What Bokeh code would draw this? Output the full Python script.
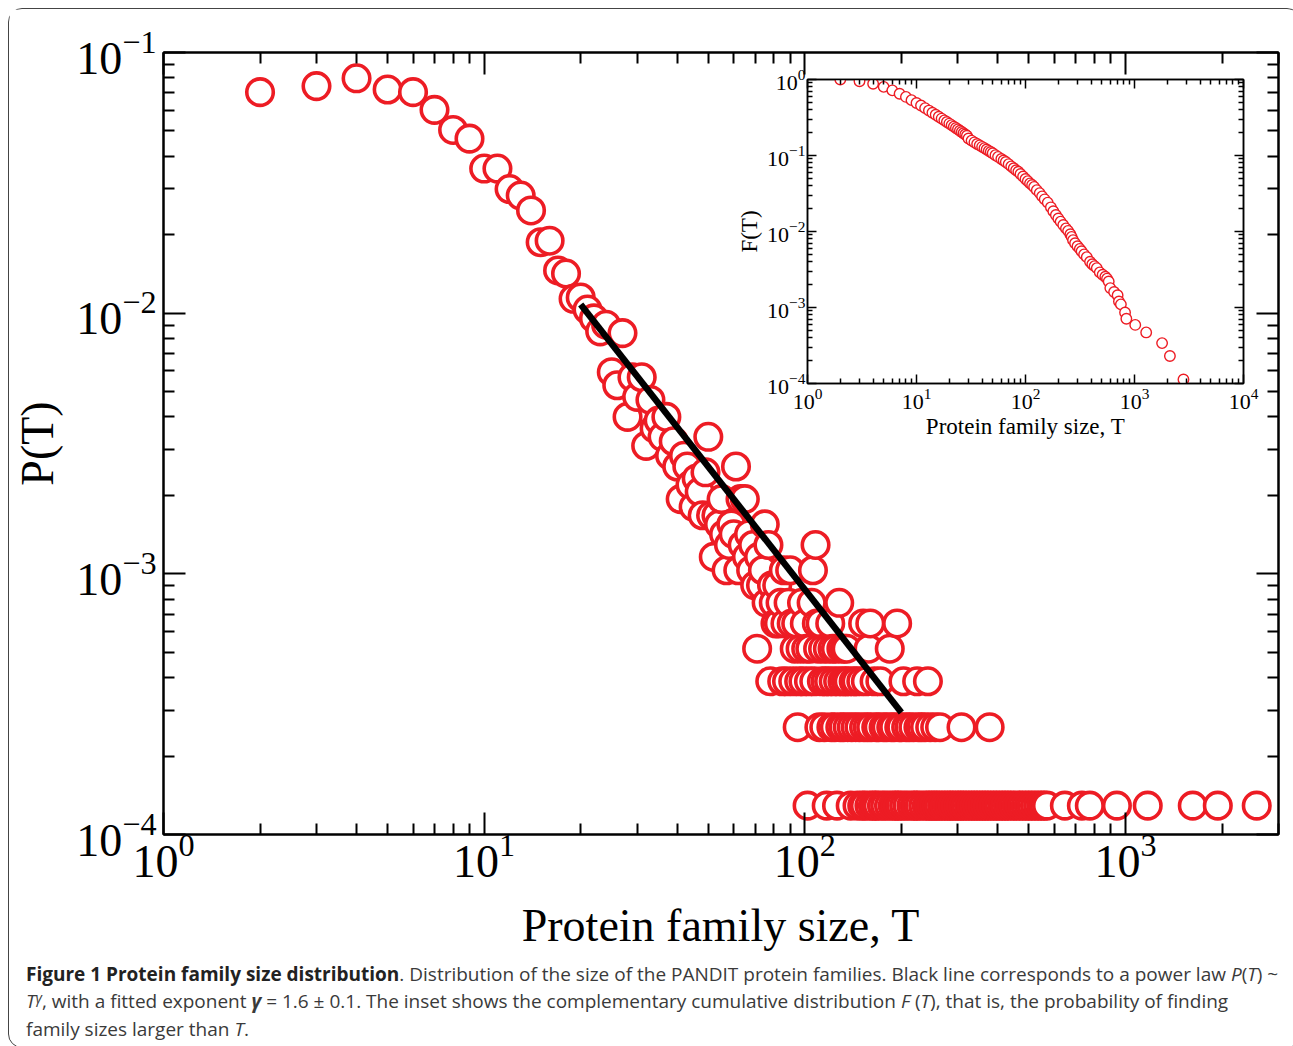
import math
from bokeh.plotting import figure
from bokeh.models import LogAxis, FixedTicker, CustomJSTickFormatter, LogTickFormatter, Div
from bokeh.layouts import column
from bokeh.embed import file_html
from bokeh.resources import INLINE

# ---------------- data ----------------
# main panel: number of families having a given size T (P(T) = n / N_TOTAL)
family_size = [2, 3, 4, 5, 6, 7, 8, 9, 10, 11,
               12, 13, 14, 15, 16, 17, 18, 19, 20, 21,
               22, 23, 24, 25, 26, 27, 28, 29, 30, 31,
               32, 33, 34, 35, 36, 37, 38, 39, 40, 41,
               42, 43, 44, 45, 46, 47, 48, 49, 50, 51,
               52, 53, 54, 55, 56, 57, 58, 59, 60, 61,
               62, 63, 64, 65, 66, 67, 68, 69, 70, 71,
               72, 73, 74, 75, 76, 77, 78, 79, 80, 81,
               82, 83, 84, 85, 86, 87, 88, 89, 90, 91,
               92, 93, 94, 95, 96, 97, 98, 99, 100, 101,
               102, 103, 104, 105, 106, 107, 108, 109, 110, 111,
               112, 113, 114, 115, 116, 117, 118, 119, 120, 121,
               122, 123, 124, 125, 126, 127, 128, 129, 130, 131,
               132, 133, 134, 135, 136, 137, 139, 140, 142, 144,
               145, 146, 148, 150, 151, 152, 153, 154, 155, 157,
               158, 159, 160, 161, 163, 165, 166, 167, 169, 170,
               172, 174, 176, 178, 180, 183, 184, 186, 188, 190,
               192, 194, 195, 197, 199, 200, 203, 204, 207, 209,
               212, 215, 218, 220, 223, 224, 226, 228, 231, 234,
               237, 240, 242, 244, 246, 249, 253, 255, 258, 262,
               264, 268, 273, 279, 284, 289, 295, 301, 306, 308,
               312, 318, 325, 331, 338, 344, 351, 358, 365, 372,
               377, 380, 388, 396, 404, 413, 421, 430, 439, 448,
               458, 467, 477, 488, 499, 510, 522, 534, 546, 557,
               569, 647, 731, 774, 940, 1173, 1621, 1940, 2566]
n_families = [546, 576, 617, 559, 546, 467, 391, 362, 278, 278,
              232, 219, 192, 145, 147, 113, 110, 88, 89, 80,
              74, 66, 70, 46, 41, 65, 31, 44, 37, 44,
              24, 36, 28, 30, 26, 31, 22, 25, 20, 15,
              22, 20, 17, 14, 18, 16, 13, 19, 26, 13,
              9, 13, 12, 15, 11, 8, 10, 12, 11, 20,
              8, 15, 10, 15, 9, 11, 8, 10, 7, 4,
              9, 7, 8, 12, 6, 10, 3, 7, 6, 5,
              7, 5, 6, 3, 8, 5, 3, 6, 8, 5,
              3, 4, 5, 2, 3, 4, 6, 3, 5, 4,
              1, 3, 4, 6, 8, 3, 10, 5, 4, 2,
              5, 3, 4, 2, 3, 1, 4, 3, 5, 2,
              4, 3, 2, 4, 1, 3, 6, 2, 4, 3,
              2, 4, 3, 4, 2, 3, 1, 2, 3, 2,
              3, 1, 2, 3, 1, 5, 2, 1, 3, 2,
              4, 1, 5, 2, 1, 3, 1, 2, 1, 2,
              3, 1, 2, 1, 2, 1, 4, 2, 1, 2,
              1, 5, 1, 2, 1, 2, 3, 1, 2, 1,
              2, 1, 2, 1, 1, 3, 2, 1, 2, 1,
              2, 1, 3, 1, 2, 1, 1, 2, 1, 1,
              2, 1, 1, 1, 1, 1, 1, 1, 1, 2,
              1, 1, 1, 1, 1, 1, 1, 1, 1, 1,
              2, 1, 1, 1, 1, 1, 1, 1, 1, 1,
              1, 1, 1, 1, 1, 1, 1, 1, 1, 1,
              1, 1, 1, 1, 1, 1, 1, 1, 1]
N_TOTAL = 7750

# fitted power law segment P(T) ~ T^-gamma
fit_T = [20, 200]
fit_P = [0.0108, 0.000294]

# inset: complementary cumulative distribution F(T)
ccdf_T = [2, 3, 4, 5, 6, 7, 8, 9, 10, 11,
          12, 13, 14, 15, 16, 17, 18, 19, 20, 21,
          22, 23, 24, 25, 26, 27, 28, 29, 30,
          32, 34, 36, 38, 40, 42, 44, 46, 48, 50,
          53, 56, 60, 63, 66, 70, 74, 78, 82, 86,
          90, 95, 100, 105, 110, 115, 120, 127, 135, 142,
          150, 160, 171, 180, 190, 200, 210, 222, 235, 246,
          258, 265, 273, 285, 300, 315, 327, 345, 365, 391,
          410, 430, 451, 480, 510, 540, 560, 580, 600, 650,
          700, 720, 750, 819, 842, 1016, 1280, 1791, 2113, 2813]
ccdf_F = [1.0, 0.95, 0.88, 0.80, 0.72, 0.65, 0.59, 0.535, 0.49, 0.455,
          0.42, 0.39, 0.365, 0.343, 0.323, 0.306, 0.29, 0.276, 0.263, 0.251,
          0.24, 0.23, 0.221, 0.212, 0.204, 0.196, 0.189, 0.182, 0.167,
          0.157, 0.149, 0.142, 0.136, 0.130, 0.125, 0.120, 0.115, 0.111, 0.107,
          0.101, 0.096, 0.090, 0.086, 0.082, 0.077, 0.072, 0.068, 0.064, 0.061,
          0.057, 0.053, 0.049, 0.046, 0.043, 0.041, 0.0386, 0.035, 0.032, 0.029,
          0.0265, 0.024, 0.0208, 0.0185, 0.0165, 0.0148, 0.0135, 0.0122, 0.011, 0.0102,
          0.0092, 0.0085, 0.0077, 0.0070, 0.0064, 0.0059, 0.0055, 0.0050, 0.0046, 0.0040,
          0.0037, 0.0035, 0.0033, 0.0029, 0.0027, 0.00254, 0.0024, 0.0022, 0.0018, 0.0016,
          0.00145, 0.0012, 0.0011, 0.00086, 0.00071, 0.00059, 0.00047, 0.00034, 0.00023, 0.000113]

# tick values
main_x_ticks = [1, 10, 100, 1000]
main_y_ticks = [1e-4, 1e-3, 1e-2, 1e-1]
inset_x_ticks = [1, 10, 100, 1000, 10000]
inset_y_ticks = [1e-4, 1e-3, 1e-2, 1e-1, 1]

X_TITLE = "Protein family size, T"
Y_TITLE = "P(T)"
INSET_Y_TITLE = "F(T)"

RED = "#ED1C24"
SERIF = "Liberation Serif"


def minors(lo_exp, hi_exp, limit):
    return [m * 10.0 ** k for k in range(lo_exp, hi_exp) for m in range(2, 10) if m * 10.0 ** k <= limit]


def style_axis(ax, ticks, minor, tin, mtin, lw, labels=False, font_size="46px",
               standoff=0, title=None, title_size="46px", title_standoff=0):
    ax.ticker = FixedTicker(ticks=ticks, minor_ticks=minor)
    if labels:
        ax.formatter = LogTickFormatter()
        ax.major_label_text_font = SERIF
        ax.major_label_text_font_size = font_size
        ax.major_label_text_color = "black"
    else:
        ax.formatter = CustomJSTickFormatter(code="return ''")
    ax.major_label_standoff = standoff
    ax.major_tick_in = tin
    ax.major_tick_out = 0
    ax.minor_tick_in = mtin
    ax.minor_tick_out = 0
    ax.axis_line_width = lw
    ax.major_tick_line_width = lw
    ax.minor_tick_line_width = lw
    ax.axis_line_color = "black"
    ax.major_tick_line_color = "black"
    ax.minor_tick_line_color = "black"
    if title:
        ax.axis_label = title
        ax.axis_label_text_font = SERIF
        ax.axis_label_text_font_size = title_size
        ax.axis_label_text_font_style = "normal"
        ax.axis_label_text_color = "black"
        ax.axis_label_standoff = title_standoff


# ---------------- main figure ----------------
P_W, P_H = 1281, 955
P_L, P_R, P_T, P_B = 154, 12, 43, 130

p = figure(width=P_W, height=P_H, x_axis_type="log", y_axis_type="log",
           x_range=(1, 3000), y_range=(1e-4, 1e-1),
           min_border_left=P_L, min_border_right=P_R,
           min_border_top=P_T, min_border_bottom=P_B,
           toolbar_location=None, output_backend="svg")
p.frame_align = False
p.grid.visible = False
p.outline_line_color = "black"
p.outline_line_width = 2
p.background_fill_color = "white"
p.border_fill_color = "white"

mx_minor = minors(0, 4, 3000)
my_minor = minors(-4, -1, 0.1)
style_axis(p.xaxis[0], main_x_ticks, mx_minor, 22, 11, 2, labels=True,
           standoff=0, title=X_TITLE, title_standoff=20)
style_axis(p.yaxis[0], main_y_ticks, my_minor, 22, 11, 2, labels=True,
           standoff=7, title=Y_TITLE, title_standoff=10)
ax_top = LogAxis()
style_axis(ax_top, main_x_ticks, mx_minor, 22, 11, 2)
p.add_layout(ax_top, "above")
ax_right = LogAxis()
style_axis(ax_right, main_y_ticks, my_minor, 22, 11, 2)
p.add_layout(ax_right, "right")

sizes_sorted = sorted(zip(family_size, n_families))
xs = [s for s, _ in sizes_sorted]
ys = [c / N_TOTAL for _, c in sizes_sorted]
p.scatter(xs, ys, marker="circle", size=26.5, fill_color="white",
          line_color=RED, line_width=3.6)
p.line(fit_T, fit_P, line_color="black", line_width=6.5)

# ---------------- inset figure ----------------
Q_W, Q_H = 540, 379
Q_L, Q_R, Q_T, Q_B = 80, 24, 14, 61
q = figure(width=Q_W, height=Q_H, x_axis_type="log", y_axis_type="log",
           x_range=(1, 1e4), y_range=(1e-4, 1),
           min_border_left=Q_L, min_border_right=Q_R,
           min_border_top=Q_T, min_border_bottom=Q_B,
           toolbar_location=None, output_backend="svg",
           styles={"position": "absolute", "left": "718px", "top": "56px"})
q.frame_align = False
q.grid.visible = False
q.background_fill_color = None
q.border_fill_color = None
q.outline_line_color = "black"
q.outline_line_width = 1.5

qx_minor = minors(0, 4, 1e4)
qy_minor = minors(-4, 0, 1)
style_axis(q.xaxis[0], inset_x_ticks, qx_minor, 9, 5, 1.5, labels=True, font_size="22px",
           standoff=5, title=X_TITLE, title_size="23px", title_standoff=2)
style_axis(q.yaxis[0], inset_y_ticks, qy_minor, 9, 5, 1.5, labels=True, font_size="22px",
           standoff=2, title=INSET_Y_TITLE, title_size="23px", title_standoff=2)
qa_top = LogAxis()
style_axis(qa_top, inset_x_ticks, qx_minor, 9, 5, 1.5)
q.add_layout(qa_top, "above")
qa_right = LogAxis()
style_axis(qa_right, inset_y_ticks, qy_minor, 9, 5, 1.5)
q.add_layout(qa_right, "right")

q.scatter(ccdf_T, ccdf_F, marker="circle", size=10.5, fill_color="white",
          line_color=RED, line_width=1.4)

# ---------------- caption ----------------
CAPTION = (
    "<b style='color:#222'>Figure 1 Protein family size distribution</b>. Distribution of the size of the "
    "PANDIT protein families. Black line corresponds to a power law <i>P</i>(<i>T</i>) ~<br>"
    "<i>T</i><span style='font-size:14px;position:relative;top:-5px'><i>&gamma;</i></span>, "
    "with a fitted exponent <b><i>&gamma;</i></b> = 1.6 &plusmn; 0.1. "
    "The inset shows the complementary cumulative distribution <i>F</i> (<i>T</i>), that is, "
    "the probability of finding<br>family sizes larger than <i>T</i>."
)
cap = Div(text=CAPTION, width=P_W, height=82,
          styles={"font-family": "'Open Sans', sans-serif", "font-size": "19px",
                  "line-height": "27px", "color": "#3a3a3a", "padding-left": "12px",
                  "padding-top": "1px", "margin-top": "-4px",
                  "white-space": "nowrap", "box-sizing": "border-box"})

root = column(p, q, cap, styles={"position": "relative", "border": "1.5px solid #444",
                                 "border-radius": "14px", "margin": "8px"})

open("out.html", "w").write(file_html(root, INLINE))
